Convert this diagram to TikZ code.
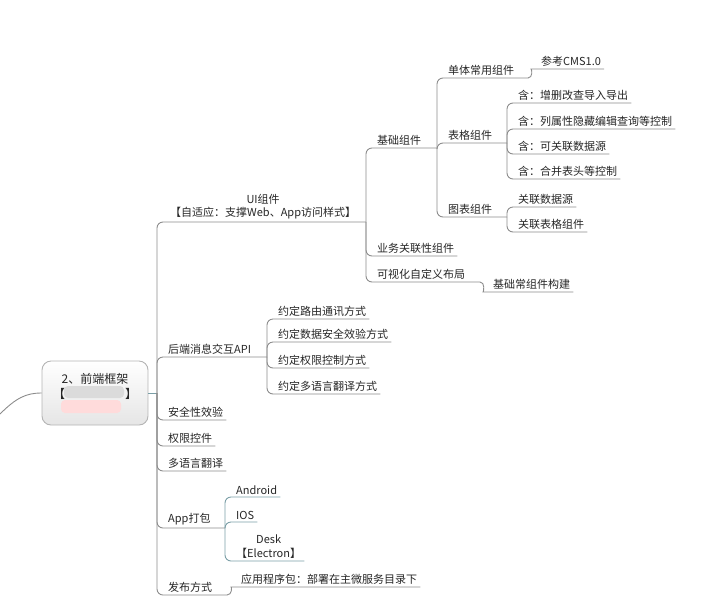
\documentclass[tikz,border=0pt]{standalone}
\usepackage{fontspec}
\setmainfont{Noto Sans CJK SC}
\definecolor{linegray}{HTML}{8C8C8C}
\definecolor{lineteal}{HTML}{7A9EA6}
\definecolor{boxline}{HTML}{B4B4B4}
\tikzset{
  topic/.style={anchor=south west, inner xsep=3pt, inner ysep=2.5pt, align=center,
    text=black!85, font=\fontsize{11}{13.5}\selectfont},
  branch/.style={draw=linegray, line width=0.9pt, rounded corners=6pt},
  rootbox/.style={draw=boxline, line width=0.9pt, rounded corners=9pt, top color=white,
    bottom color=black!10, minimum width=106pt, minimum height=64pt, align=center,
    text=black!85, font=\fontsize{12}{15}\selectfont},
}
\begin{document}
\begin{tikzpicture}[x=1pt,y=-1pt]
  \useasboundingbox (0,0) rectangle (706,603);
  % centre topic
  \node[rootbox] (root) at (95,393) {2、前端框架\\【\hspace{60pt}】\\\mbox{}};
  \fill[black!14, rounded corners=4pt] (64,386) rectangle (124,398);
  \fill[red!14, rounded corners=4pt] (61,400) rectangle (121,413);
  \coordinate (inlet) at (0,414);
  \draw[branch] (inlet) .. controls (16,398) and (26,393) .. (root.west);
  \coordinate (stem) at (157,393);
  \draw[branch, draw=lineteal] (root.east) -- (stem);

  % forks
  \coordinate (fui) at (366,222); \coordinate (fbe) at (267,357);
  \coordinate (fapp) at (225,528); \coordinate (ffb) at (227,595);
  \coordinate (fjc) at (437,148); \coordinate (fks) at (480,282);
  \coordinate (fdt) at (528,78); \coordinate (fbg) at (507,143);
  \coordinate (ftb) at (507,217);

  % first level
  \node[topic] (ui) at (167,222) {UI组件\\【自适应：支撑Web、App访问样式】};
  \node[topic] (be) at (165,357) {后端消息交互API};
  \node[topic] (aq) at (165,420) {安全性效验};
  \node[topic] (qx) at (165,446) {权限控件};
  \node[topic] (dy) at (165,471) {多语言翻译};
  \node[topic] (app) at (165,528) {App打包};
  \node[topic] (fb) at (165,595) {发布方式};
  \draw[branch] (stem) |- (fui);
  \draw[branch] (stem) |- (fbe);
  \draw[branch] (stem) |- (aq.south east);
  \draw[branch] (stem) |- (qx.south east);
  \draw[branch] (stem) |- (dy.south east);
  \draw[branch] (stem) |- (fapp);
  \draw[branch] (stem) |- (ffb);

  % UI组件
  \node[topic] (jc) at (374,148) {基础组件};
  \node[topic] (yw) at (374,256) {业务关联性组件};
  \node[topic] (ks) at (374,282) {可视化自定义布局};
  \node[topic] (jcc) at (490,292) {基础常组件构建};
  \draw[branch] (fui) |- (fjc);
  \draw[branch] (fui) |- (yw.south east);
  \draw[branch] (fui) |- (fks);
  \draw[branch] (fks) to[out=0,in=180] (489,292) -- (jcc.south east);

  % 基础组件
  \node[topic] (dt) at (445,78) {单体常用组件};
  \node[topic] (cms) at (538,69) {参考CMS1.0};
  \node[topic] (bg) at (445,143) {表格组件};
  \node[topic] (tb) at (445,217) {图表组件};
  \draw[branch] (fjc) |- (fdt);
  \draw[branch] (fjc) |- (fbg);
  \draw[branch] (fjc) |- (ftb);
  \draw[branch] (fdt) to[out=0,in=180] (537,69) -- (cms.south east);

  % 表格组件
  \node[topic] (bg1) at (515,103) {含：增删改查导入导出};
  \node[topic] (bg2) at (515,129) {含：列属性隐藏编辑查询等控制};
  \node[topic] (bg3) at (515,154) {含：可关联数据源};
  \node[topic] (bg4) at (515,179) {含：合并表头等控制};
  \foreach \n in {bg1,bg2,bg3,bg4}
    \draw[branch] (fbg) |- (\n.south east);

  % 图表组件
  \node[topic] (tb1) at (515,207) {关联数据源};
  \node[topic] (tb2) at (515,232) {关联表格组件};
  \draw[branch] (ftb) |- (tb1.south east);
  \draw[branch] (ftb) |- (tb2.south east);

  % 后端消息交互API
  \node[topic] (be1) at (275,319) {约定路由通讯方式};
  \node[topic] (be2) at (275,342) {约定数据安全效验方式};
  \node[topic] (be3) at (275,368) {约定权限控制方式};
  \node[topic] (be4) at (275,394) {约定多语言翻译方式};
  \foreach \n in {be1,be2,be3,be4}
    \draw[branch] (fbe) |- (\n.south east);

  % App打包
  \node[topic] (an) at (233,497) {Android};
  \node[topic] (ios) at (233,522) {IOS};
  \node[topic] (desk) at (233,561) {Desk\\【Electron】};
  \foreach \n in {an,ios,desk}
    \draw[branch, draw=lineteal] (fapp) |- (\n.south east);

  % 发布方式
  \node[topic] (yy) at (238,587) {应用程序包：部署在主微服务目录下};
  \draw[branch] (ffb) to[out=0,in=180] (237,587) -- (yy.south east);
\end{tikzpicture}
\end{document}
